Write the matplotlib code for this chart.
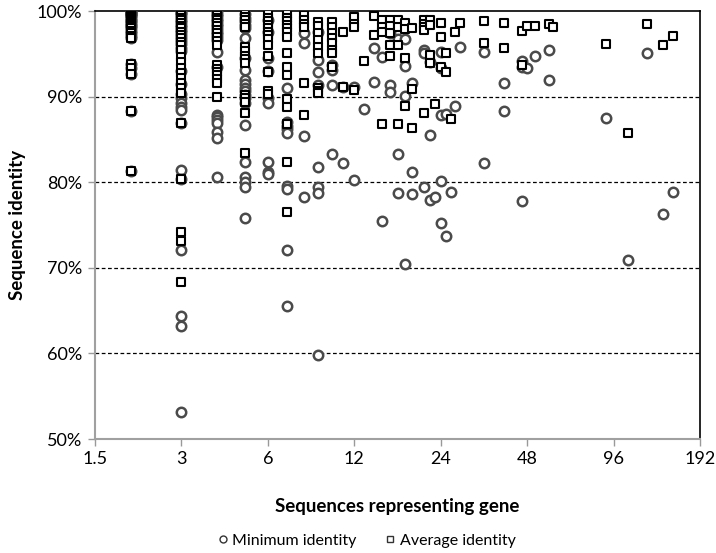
import matplotlib
matplotlib.use("Agg")
import matplotlib.pyplot as plt
from matplotlib.lines import Line2D

plt.rcParams['font.family'] = ['Lato', 'DejaVu Sans']

# Minimum pairwise identity per gene (x = number of sequences representing the gene)
min_count = (
    [2] * 24
    + [3] * 30
    + [4] * 21
    + [5] * 21
    + [6] * 9
    + [7] * 9
    + [8] * 4
    + [9] * 8
    + [10] * 4
    + [11] * 2
    + [12] * 2
    + [13] * 1
    + [14] * 2
    + [15] * 2
    + [16] * 3
    + [17] * 3
    + [18] * 4
    + [19] * 3
    + [21] * 3
    + [22] * 3
    + [23] * 1
    + [24] * 5
    + [25] * 2
    + [26] * 1
    + [27] * 1
    + [28] * 1
    + [34] * 2
    + [40] * 2
    + [46] * 3
    + [48] * 1
    + [51] * 1
    + [57] * 2
    + [90] * 1
    + [108] * 1
    + [126] * 1
    + [143] * 1
    + [155] * 1
)
min_identity = (
    # 2
    [100, 100, 99.9, 99.8, 99.7, 99.6, 99.5, 99.4, 99.2, 99.0, 98.8, 98.6,
     98.4, 98.2, 98.0, 97.7, 97.4, 97.1, 96.9, 93.8, 93.3, 92.6, 88.3, 81.3]
    # 3
    + [100, 99.8, 99.6, 99.3, 99.0, 98.7, 98.4, 98.1, 97.8, 97.5, 97.2, 96.9,
       96.5, 96.1, 95.7, 95.3, 93.0, 91.5, 90.3, 89.8, 89.3, 88.8, 88.4, 86.9,
       81.4, 80.4, 72.1, 64.4, 63.2, 53.2]
    # 4
    + [100, 99.7, 99.4, 99.1, 98.8, 98.5, 98.2, 97.9, 97.6, 97.3, 97.0, 96.6,
       95.2, 93.5, 87.9, 87.6, 87.3, 86.9, 85.9, 85.2, 80.6]
    # 5
    + [99.6, 99.2, 98.8, 98.4, 98.0, 96.8, 93.1, 91.9, 91.5, 91.0, 90.6, 90.2,
       89.8, 89.3, 86.7, 82.4, 80.6, 80.0, 79.4, 75.8, 94.5]
    # 6
    + [99.0, 97.5, 94.5, 93.0, 89.8, 89.3, 82.4, 81.2, 80.9]
    # 7
    + [91.0, 87.0, 86.6, 86.2, 85.8, 79.6, 79.2, 72.1, 65.5]
    # 8
    + [97.4, 96.3, 85.4, 78.3]
    # 9
    + [97.5, 94.3, 92.9, 91.4, 81.8, 79.4, 78.7, 59.8]
    # 10
    + [93.7, 93.1, 91.4, 83.3]
    # 11
    + [91.1, 82.3]
    # 12
    + [91.1, 80.2]
    # 13
    + [88.5]
    # 14
    + [95.7, 91.7]
    # 15
    + [94.6, 75.5]
    # 16
    + [97.4, 91.4, 90.5]
    # 17
    + [96.7, 83.3, 78.7]
    # 18
    + [96.7, 93.6, 90.1, 70.4]
    # 19
    + [91.6, 81.2, 78.6]
    # 21
    + [95.4, 95.1, 79.4]
    # 22
    + [94.0, 85.5, 77.9]
    # 23
    + [78.3]
    # 24
    + [95.2, 93.3, 87.9, 80.1, 75.2]
    # 25
    + [88.0, 73.7]
    # 26
    + [78.9]
    # 27
    + [88.9]
    # 28
    + [95.8]
    # 34, 40
    + [95.2, 82.3, 91.6, 88.3]
    # 46, 48, 51
    + [94.2, 93.5, 77.8, 93.3, 94.7]
    # 57
    + [95.5, 91.9]
    # 90, 108, 126, 143, 155
    + [87.5, 70.9, 95.1, 76.3, 78.9]
)

# Average pairwise identity per gene
avg_count = (
    [2] * 24
    + [3] * 27
    + [4] * 19
    + [5] * 15
    + [6] * 13
    + [7] * 15
    + [8] * 6
    + [9] * 9
    + [10] * 8
    + [11] * 2
    + [12] * 4
    + [13] * 1
    + [14] * 2
    + [15] * 4
    + [16] * 5
    + [17] * 4
    + [18] * 4
    + [19] * 3
    + [21] * 5
    + [22] * 4
    + [23] * 1
    + [24] * 3
    + [25] * 2
    + [26] * 1
    + [27] * 1
    + [28] * 1
    + [34] * 2
    + [40] * 2
    + [46] * 2
    + [48] * 1
    + [51] * 1
    + [57] * 1
    + [59] * 1
    + [90] * 1
    + [108] * 1
    + [126] * 1
    + [143] * 1
    + [155] * 1
)
avg_identity = (
    # 2
    [100, 100, 99.9, 99.8, 99.7, 99.6, 99.5, 99.4, 99.2, 99.0, 98.8, 98.6,
     98.4, 98.2, 98.0, 97.7, 97.4, 97.1, 96.9, 93.8, 93.3, 92.6, 88.3, 81.3]
    # 3
    + [100, 99.8, 99.5, 99.2, 98.9, 98.6, 98.3, 98.0, 97.6, 97.2, 96.8, 96.4,
       96.0, 95.5, 94.6, 94.0, 93.3, 92.8, 92.2, 91.6, 91.0, 90.4, 86.9, 80.4,
       74.2, 73.1, 68.3]
    # 4
    + [100, 99.8, 99.5, 99.2, 98.9, 98.6, 98.2, 97.8, 97.4, 97.0, 96.5, 96.0,
       93.7, 93.2, 92.9, 92.5, 92.0, 91.6, 90.0]
    # 5
    + [99.7, 99.3, 98.9, 98.5, 98.1, 95.8, 95.3, 94.8, 94.4, 93.9, 90.2, 89.8,
       89.4, 88.1, 83.4]
    # 6
    + [99.6, 99.2, 98.8, 98.4, 98.0, 97.6, 97.2, 96.7, 96.0, 94.7, 92.9, 90.7,
       90.3]
    # 7
    + [99.6, 99.2, 98.8, 98.4, 98.0, 97.5, 97.0, 95.1, 93.5, 92.5, 89.7, 88.8,
       86.8, 82.4, 76.5]
    # 8
    + [99.5, 99.0, 98.5, 98.1, 91.6, 87.9]
    # 9
    + [98.7, 98.2, 97.4, 96.6, 95.8, 95.1, 91.0, 90.7, 90.4]
    # 10
    + [98.7, 98.1, 97.4, 96.9, 96.3, 95.5, 95.1, 93.4]
    # 11
    + [97.5, 91.1]
    # 12
    + [99.3, 98.5, 98.1, 90.8]
    # 13
    + [94.2]
    # 14
    + [99.4, 97.2]
    # 15
    + [98.9, 98.1, 97.5, 86.8]
    # 16
    + [98.9, 98.2, 97.4, 96.0, 94.7]
    # 17
    + [98.9, 98.1, 96.0, 86.8]
    # 18
    + [98.6, 97.9, 94.5, 88.9]
    # 19
    + [98.0, 90.9, 86.3]
    # 21
    + [98.9, 98.5, 98.1, 97.8, 88.1]
    # 22
    + [98.9, 98.4, 94.9, 93.9]
    # 23
    + [89.1]
    # 24
    + [98.6, 97.0, 93.5]
    # 25
    + [95.1, 92.9]
    # 26
    + [87.4]
    # 27
    + [97.5]
    # 28
    + [98.6]
    # 34, 40
    + [98.8, 96.3, 98.6, 95.7]
    # 46, 48, 51, 57, 59
    + [97.7, 93.7, 98.2, 98.2, 98.5, 98.1]
    # 90, 108, 126, 143, 155
    + [96.1, 85.8, 98.5, 96.0, 97.1]
)

x_ticks = [1.5, 3, 6, 12, 24, 48, 96, 192]
x_tick_labels = ["1.5", "3", "6", "12", "24", "48", "96", "192"]
y_ticks = [50, 60, 70, 80, 90, 100]
y_tick_labels = ["50%", "60%", "70%", "80%", "90%", "100%"]

fig = plt.figure(figsize=(7.16, 5.53), dpi=100)
ax = fig.add_axes([95 / 716, 1 - 439 / 553, 605 / 716, 428 / 553])

ax.set_xscale('log', base=2)
ax.set_xlim(1.5, 192)
ax.set_ylim(50, 100)

for v in y_ticks[1:-1]:
    ax.axhline(v, color='black', lw=0.9, ls=(0, (3, 2)), zorder=1)

ax.scatter(min_count, min_identity, s=46, marker='o', facecolors='white',
           edgecolors='#4a4a4a', linewidths=1.8, zorder=3)
ax.scatter(avg_count, avg_identity, s=40, marker='s', facecolors='white',
           edgecolors='black', linewidths=1.5, zorder=4)

ax.set_xticks(x_ticks)
ax.set_xticklabels(x_tick_labels)
ax.xaxis.set_minor_locator(matplotlib.ticker.NullLocator())
ax.set_yticks(y_ticks)
ax.set_yticklabels(y_tick_labels)

ax.tick_params(axis='both', direction='out', length=5, width=1,
               color='#999999', labelsize=13, pad=4)

for side in ('left', 'bottom'):
    ax.spines[side].set_color('#a0a0a0')
    ax.spines[side].set_linewidth(1.5)
for side in ('top', 'right'):
    ax.spines[side].set_color('black')
    ax.spines[side].set_linewidth(1.2)

ax.set_xlabel("Sequences representing gene", fontsize=13.5, fontweight='bold',
              labelpad=22)
ax.set_ylabel("Sequence identity", fontsize=13.5, fontweight='bold',
              labelpad=8)

handles = [
    Line2D([], [], ls='none', marker='o', ms=5, mfc='white', mec='#333333',
           mew=1.0, label='Minimum identity'),
    Line2D([], [], ls='none', marker='s', ms=5, mfc='white', mec='#333333',
           mew=1.0, label='Average identity'),
]
fig.legend(handles=handles, loc='center', bbox_to_anchor=(365 / 716, 1 - 541 / 553),
           ncol=2, frameon=False, fontsize=11.5, handletextpad=0.1,
           columnspacing=1.6, handlelength=1.0)

fig.savefig("out.png", dpi=100)
